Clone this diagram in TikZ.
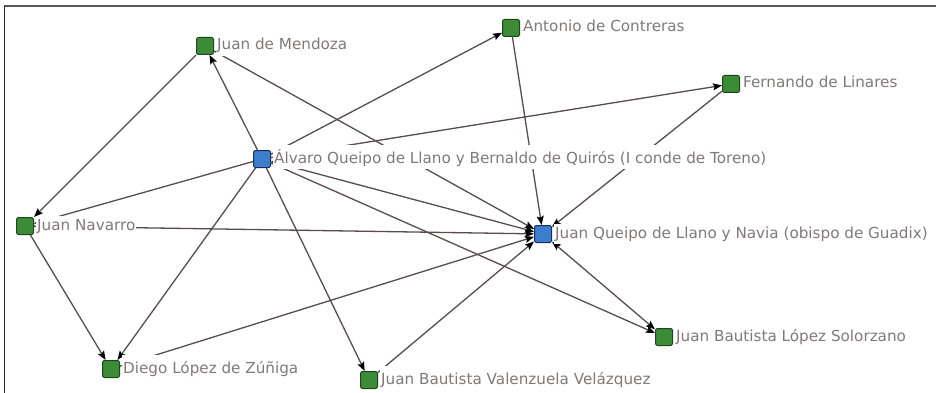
\documentclass[tikz,border=0pt]{standalone}
\usepackage{fontspec}
\setmainfont{DejaVu Sans}
\usetikzlibrary{arrows.meta}
\definecolor{edgec}{RGB}{90,76,76}
\definecolor{labc}{RGB}{130,120,120}
\definecolor{gfill}{RGB}{60,140,55}
\definecolor{gdraw}{RGB}{30,70,30}
\definecolor{bfill}{RGB}{60,125,205}
\definecolor{bdraw}{RGB}{25,45,90}
\begin{document}
\begin{tikzpicture}[x=1pt,y=-1pt,
  gnode/.style={draw=gdraw,fill=gfill,line width=1pt,minimum size=17pt,inner sep=0pt,rounded corners=1.5pt},
  bnode/.style={draw=bdraw,fill=bfill,line width=1pt,minimum size=17pt,inner sep=0pt,rounded corners=1.5pt},
  lab/.style={anchor=base west,fill=white,inner sep=1pt,text=labc,font=\fontsize{15.2}{17}\selectfont,text height=17.5pt,text depth=5pt},
  lowlab/.style={lab,text height=13pt},
  tip/.tip={Stealth[length=9pt,width=7pt,inset=1.5pt,color=black]},
  edge/.style={draw=edgec,line width=1.3pt,-tip},
  bedge/.style={draw=edgec,line width=1.3pt,tip-tip}
]
\useasboundingbox (0,0) rectangle (936,393);
\fill[white] (0,0) rectangle (936,393);
\draw[black!65,line width=2pt] (4,6) -- (936,6);
\draw[black!85,line width=1.5pt] (4.5,6) -- (4.5,393);

% nodes
\node[gnode] (mendoza) at (205,46) {};
\node[gnode] (antonio) at (511,28) {};
\node[gnode] (fernando) at (731,84) {};
\node[bnode] (alvaro) at (262,159) {};
\node[gnode] (navarro) at (25,226) {};
\node[bnode] (queipo) at (543,234) {};
\node[gnode] (diego) at (111,369) {};
\node[gnode] (valenzuela) at (369,380) {};
\node[gnode] (solorzano) at (664,337) {};

% edges
\draw[edge] (alvaro) -- (mendoza);
\draw[edge] (mendoza) -- (queipo);
\draw[edge] (mendoza) -- (navarro);
\draw[edge] (alvaro) -- (antonio);
\draw[edge] (antonio) -- (queipo);
\draw[edge] (alvaro) -- (fernando);
\draw[edge] (fernando) -- (queipo);
\draw[edge] (alvaro) -- (navarro);
\draw[edge] (navarro) -- (queipo);
\draw[edge] (navarro) -- (diego);
\draw[edge] (alvaro) -- (diego);
\draw[edge] (diego) -- (queipo);
\draw[edge] (alvaro) -- (valenzuela);
\draw[edge] (valenzuela) -- (queipo);
\draw[bedge] (alvaro) -- (queipo);
\draw[edge] (alvaro) -- (solorzano);
\draw[bedge] (solorzano) -- (queipo);

% labels
\node[lab] (mendozaL) at ([xshift=2pt,yshift=-4pt]mendoza.east) {Juan de Mendoza};
\node[lab] (antonioL) at ([xshift=2pt,yshift=-4pt]antonio.east) {Antonio de Contreras};
\node[lab] (fernandoL) at ([xshift=2pt,yshift=-4pt]fernando.east) {Fernando de Linares};
\node[lab] (alvaroL) at ([xshift=2pt,yshift=-4pt]alvaro.east) {Álvaro Queipo de Llano y Bernaldo de Quirós (I conde de Toreno)};
\node[lowlab] (navarroL) at ([xshift=2pt,yshift=-4pt]navarro.east) {Juan Navarro};
\node[lowlab] (queipoL) at ([xshift=2pt,yshift=-4pt]queipo.east) {Juan Queipo de Llano y Navia (obispo de Guadix)};
\node[lab] (diegoL) at ([xshift=2pt,yshift=-4pt]diego.east) {Diego López de Zúñiga};
\node[lab] (valenzuelaL) at ([xshift=2pt,yshift=-4pt]valenzuela.east) {Juan Bautista Valenzuela Velázquez};
\node[lab] (solorzanoL) at ([xshift=2pt,yshift=-4pt]solorzano.east) {Juan Bautista López Solorzano};
\end{tikzpicture}
\end{document}
